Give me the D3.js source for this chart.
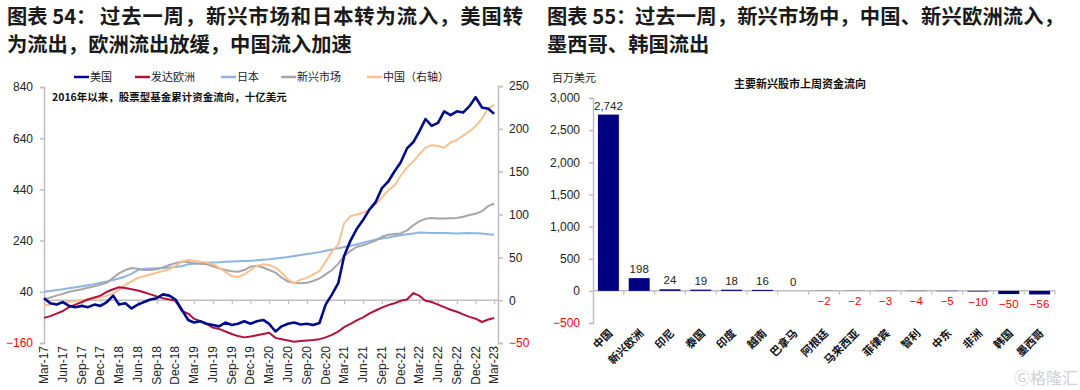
<!DOCTYPE html>
<html><head><meta charset="utf-8">
<script src="https://cdn.jsdelivr.net/npm/d3@7/dist/d3.min.js"></script>
<style>
html,body{margin:0;padding:0;background:#fff;}
svg{display:block;}
text{font-family:"Liberation Sans","Noto Sans CJK SC",sans-serif;}
.cjk{font-family:"Noto Sans CJK SC","Liberation Sans",sans-serif;}
</style></head>
<body>
<svg id="c" width="1080" height="390"></svg>
<script>
// ---------- LEFT CHART DATA (monthly, Mar-17 .. Mar-23) ----------
const usFlows = [15,-5,-10,0,-15,-20,-15,-20,-10,-15,0,25,-10,-5,-25,-10,0,10,15,30,25,10,-30,-70,
  -80,-75,-85,-90,-95,-80,-90,-85,-75,-85,-75,-70,-85,-115,-95,-85,-80,-88,-85,-90,-82,-10,30,75,
  180,240,285,320,360,390,445,470,510,545,600,625,665,715,688,700,745,730,745,740,765,800,760,755,735];
const europeFlows = [-62,-55,-45,-35,-20,-10,0,10,18,25,40,50,58,55,50,45,38,30,22,15,10,5,-35,-45,
  -65,-75,-85,-100,-105,-115,-125,-133,-138,-135,-130,-125,-120,-140,-145,-150,-155,-152,-150,-148,-145,-138,-128,-115,
  -98,-85,-72,-60,-45,-33,-22,-12,-5,5,10,35,25,5,0,-10,-20,-30,-38,-48,-58,-65,-78,-68,-62];
const japanFlows = [40,43,47,50,54,58,62,66,70,75,80,86,92,100,110,125,130,131,132,133,135,137,140,148,
  150,151,153,154,155,157,158,159,160,161,163,165,167,170,173,176,180,184,188,191,195,200,205,210,
  215,220,225,232,238,243,248,252,257,261,265,268,272,271,270,270,270,269,268,269,270,269,268,265,263];
const emFlows = [10,18,25,32,40,45,50,56,62,68,75,95,112,125,133,130,125,125,128,135,145,152,158,156,
  152,150,148,140,132,125,120,118,125,138,142,135,125,115,95,80,75,73,75,82,92,108,125,150,
  180,200,215,222,230,240,255,263,266,268,280,300,315,325,328,326,326,327,328,333,340,345,355,375,385];
const chinaFlows = [-6,-5,-4,-3,-2,-1,0,1,2,3,5,8,12,18,22,26,28,30,32,34,36,40,45,47,
  46,45,44,42,38,33,28,27,30,35,40,42,41,38,32,24,20,24,26,30,34,45,57,65,
  90,98,100,102,105,112,120,128,134,145,155,162,170,178,181,180,178,184,187,192,197,203,212,224,228];
const seriesNames = ["美国","发达欧洲","日本","新兴市场","中国（右轴）"];
const leftTicks = [840,640,440,240,40,-160];
const rightTicks = [250,200,150,100,50,0,-50];

// ---------- RIGHT CHART DATA ----------
const markets = ["中国","新兴欧洲","印尼","泰国","印度","越南","巴拿马","阿根廷","马来西亚","菲律宾","智利","中东","非洲","韩国","墨西哥"];
const weeklyFlows = [2742,198,24,19,18,16,0,-2,-2,-3,-4,-5,-10,-50,-56];
const barTicks = [3000,2500,2000,1500,1000,500,0,-500];

const svg = d3.select("#c");
const txtDark = "#222";

// ---------- TITLES ----------
function title(x0, head, restX, line1, line1End, line2){
  const t = svg.append("text").attr("class","cjk").attr("font-size",20.3)
    .attr("font-weight","bold").attr("fill","#1a1a1a");
  t.append("tspan").attr("x",x0).attr("y",24).text(head);
  t.append("tspan").attr("x",restX).attr("y",24).attr("textLength",line1End-restX)
    .attr("lengthAdjust","spacing").text(line1);
  svg.append("text").attr("class","cjk").attr("font-size",20.3).attr("font-weight","bold")
    .attr("fill","#1a1a1a").attr("x",x0).attr("y",52).text(line2);
}
title(7,"图表 54：",100,"过去一周，新兴市场和日本转为流入，美国转",523,"为流出，欧洲流出放缓，中国流入加速");
title(547,"图表 55：",635,"过去一周，新兴市场中，中国、新兴欧洲流入，",1064,"墨西哥、韩国流出");

// ---------- LEFT CHART ----------
const dates = d3.timeMonth.range(new Date(2017,2,1), new Date(2023,2,2));
const x = d3.scaleTime().domain([new Date(2017,2,1), new Date(2023,2,20)]).range([44,498]);
const yL = d3.scaleLinear().domain([-160,840]).range([343,87]);
const yR = d3.scaleLinear().domain([-50,250]).range([343,86]);
const axisCol = "#bfbfbf";

const gL = svg.append("g");
const la = gL.append("g").attr("transform","translate(44,0)")
  .call(d3.axisLeft(yL).tickValues(leftTicks).tickSize(4).tickPadding(7));
la.select(".domain").attr("stroke",axisCol).attr("stroke-width",1.5);
la.selectAll(".tick line").attr("stroke",axisCol).attr("stroke-width",1.5);
la.selectAll("text").attr("font-size",12).attr("fill",d=>d<0?"#ff0000":txtDark);
const ra = gL.append("g").attr("transform","translate(498,0)")
  .call(d3.axisRight(yR).tickValues(rightTicks).tickSize(5).tickPadding(6));
ra.select(".domain").attr("stroke",axisCol).attr("stroke-width",1.5);
ra.selectAll(".tick line").attr("stroke",axisCol).attr("stroke-width",1.5);
ra.selectAll("text").attr("font-size",12).attr("fill",d=>d<0?"#ff0000":txtDark);

const xTickDates = d3.timeMonth.range(new Date(2017,2,1), new Date(2023,2,2), 3);
const xa = gL.append("g").attr("transform",`translate(0,${yR(0)})`)
  .call(d3.axisBottom(x).tickValues(xTickDates).tickSize(4).tickFormat(()=>""));
xa.select(".domain").attr("stroke",axisCol).attr("stroke-width",1.5).attr("d","M44,0H498");
xa.selectAll(".tick line").attr("stroke",axisCol).attr("stroke-width",1.2);
const fmt = d3.timeFormat("%b-%y");
gL.selectAll(".xl").data(xTickDates).join("text")
  .attr("transform",d=>`translate(${x(d)+4},346) rotate(-90)`)
  .attr("text-anchor","end").attr("font-size",12).attr("fill",txtDark).text(d=>fmt(d));

const series = [
  {vals:japanFlows, y:yL, col:"#8db4e2", w:2},
  {vals:emFlows, y:yL, col:"#a6a6a6", w:2},
  {vals:chinaFlows, y:yR, col:"#fac090", w:2},
  {vals:europeFlows, y:yL, col:"#b3123a", w:2},
  {vals:usFlows, y:yL, col:"#000c8c", w:2.6},
];
series.forEach(s=>{
  const line = d3.line().x((d,i)=>x(dates[i])).y(d=>s.y(d));
  gL.append("path").attr("d",line(s.vals)).attr("fill","none")
    .attr("stroke",s.col).attr("stroke-width",s.w).attr("stroke-linejoin","round");
});

const legCols = ["#000c8c","#b3123a","#8db4e2","#a6a6a6","#fac090"];
const legX = [74,135,221,281,367];
seriesNames.forEach((n,i)=>{
  gL.append("line").attr("x1",legX[i]).attr("x2",legX[i]+15).attr("y1",77).attr("y2",77)
    .attr("stroke",legCols[i]).attr("stroke-width",2.5);
  gL.append("text").attr("class","cjk").attr("x",legX[i]+16).attr("y",81)
    .attr("font-size",11).attr("fill",txtDark).text(n);
});
gL.append("text").attr("class","cjk").attr("x",52).attr("y",101).attr("font-size",10.5)
  .attr("font-weight","bold").attr("fill","#111").text("2016年以来，股票型基金累计资金流向，十亿美元");

// ---------- RIGHT CHART ----------
const gR = svg.append("g");
const xb = d3.scaleBand().domain(markets).range([593,1055]).paddingInner(0.32).paddingOuter(0.16);
const yb = d3.scaleLinear().domain([-500,3000]).range([323,98]);

const ya = gR.append("g").attr("transform","translate(593,0)")
  .call(d3.axisLeft(yb).tickValues(barTicks).tickSize(4).tickPadding(9).tickFormat(d3.format(",")));
ya.select(".domain").attr("stroke",axisCol).attr("stroke-width",1.5);
ya.selectAll(".tick line").attr("stroke",axisCol).attr("stroke-width",1.5);
ya.selectAll("text").attr("font-size",12).attr("fill",d=>d<0?"#ff0000":txtDark);

gR.append("line").attr("x1",593).attr("x2",1055).attr("y1",yb(0)).attr("y2",yb(0))
  .attr("stroke",axisCol).attr("stroke-width",1.5);
const step = xb.step();
gR.selectAll(".sep").data(markets).join("line")
  .attr("x1",(d,i)=>593+step*(i+1)).attr("x2",(d,i)=>593+step*(i+1))
  .attr("y1",yb(0)).attr("y2",yb(0)+4).attr("stroke",axisCol).attr("stroke-width",1.2);

gR.selectAll(".bar").data(weeklyFlows).join("rect")
  .attr("x",(d,i)=>xb(markets[i])).attr("width",xb.bandwidth())
  .attr("y",d=>yb(Math.max(0,d))).attr("height",d=>Math.abs(yb(d)-yb(0)))
  .attr("fill","#000080");

const numFmt = d3.format(",");
gR.selectAll(".vl").data(weeklyFlows).join("text")
  .attr("x",(d,i)=>xb(markets[i])+xb.bandwidth()/2)
  .attr("y",d=>d>=0 ? yb(d)-5 : yb(d)+14)
  .attr("text-anchor","middle").attr("font-size",11.5)
  .attr("fill",d=>d<0?"#ff0000":txtDark).text(d=>numFmt(d));

gR.selectAll(".cl").data(markets).join("text").attr("class","cjk")
  .attr("transform",d=>`translate(${xb(d)+xb.bandwidth()/2+5},334) rotate(-45)`)
  .attr("text-anchor","end").attr("font-size",11).attr("font-weight","bold").attr("fill","#111").text(d=>d);

gR.append("text").attr("class","cjk").attr("x",552).attr("y",82).attr("font-size",11)
  .attr("fill",txtDark).text("百万美元");
gR.append("text").attr("class","cjk").attr("x",800).attr("y",88).attr("text-anchor","middle")
  .attr("font-size",11).attr("font-weight","bold").attr("fill","#111").text("主要新兴股市上周资金流向");

gR.append("text").attr("class","cjk").attr("x",1078).attr("y",384).attr("text-anchor","end")
  .attr("font-size",16).attr("fill","#d0d0d0").text("Ⓖ格隆汇");
</script>
</body></html>
